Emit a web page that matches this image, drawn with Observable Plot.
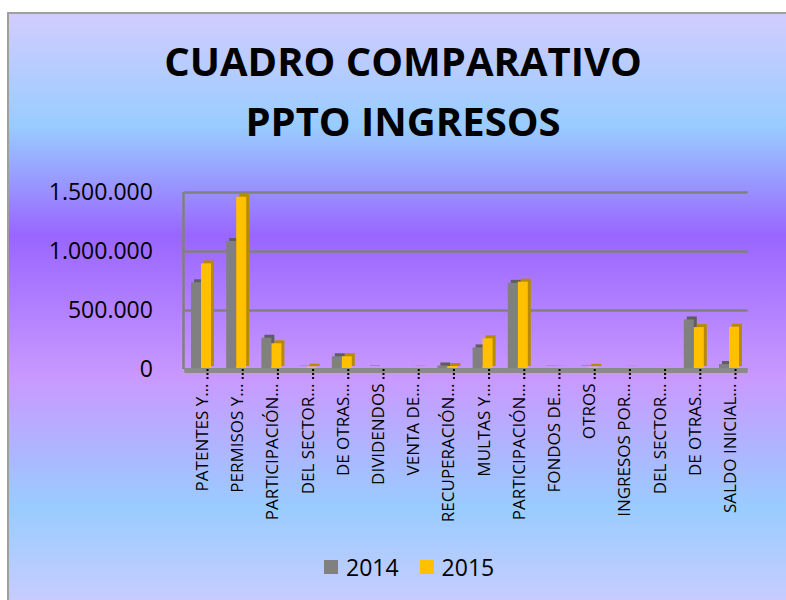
<!DOCTYPE html>
<html><head><meta charset="utf-8">
<script src="https://cdn.jsdelivr.net/npm/d3@7"></script>
<script src="https://cdn.jsdelivr.net/npm/@observablehq/plot@0.6"></script>
<style>
body{margin:0;background:#fff;width:786px;height:600px;overflow:hidden;position:relative;font-family:"Open Sans",sans-serif;}
#frame{position:absolute;left:7px;top:12px;width:800px;height:600px;border-left:2px solid #a0a0a0;border-top:2px solid #a0a0a0;
background:linear-gradient(to bottom,#d2ccff 0px,#99ccff 112px,#9966ff 222px,#c999ff 364px,#99ccff 494px,#c8ccff 588px);}
#chart{position:absolute;left:0;top:0;}
.title{position:absolute;left:7px;width:792px;text-align:center;font-family:"Open Sans",sans-serif;font-weight:700;font-size:40px;line-height:60px;color:#000;white-space:nowrap;}
#legend{position:absolute;left:324px;top:552px;height:30px;display:flex;align-items:center;font-size:23px;line-height:1;color:#000;}
#legend .sw{width:14px;height:14px;display:inline-block;margin-right:8px;}
#legend .item{display:flex;align-items:center;margin-right:21px;}
</style></head><body>
<div id="frame"></div>
<div class="title" style="top:31px">CUADRO COMPARATIVO</div>
<div class="title" style="top:91px">PPTO INGRESOS</div>
<div id="chart"></div>
<div id="legend"></div>
<script>
const labels = ["PATENTES Y…","PERMISOS Y…","PARTICIPACIÓN…","DEL SECTOR…","DE OTRAS…","DIVIDENDOS","VENTA DE…","RECUPERACIÓN…","MULTAS Y…","PARTICIPACIÓN…","FONDOS DE…","OTROS","INGRESOS POR…","DEL SECTOR…","DE OTRAS…","SALDO INICIAL…"];
const years = ["2014","2015"];
const v2014 = [735000,1085000,265000,2000,108000,3000,0,30000,183000,730000,2000,3000,0,0,420000,42000];
const v2015 = [895000,1460000,218000,20000,108000,0,3000,25000,260000,740000,2000,18000,2000,1000,355000,358000];
const yTicks = [0,500000,1000000,1500000];
const colors = ["#808080","#ffc000"];
const depthColors = ["#5e5e5e","#b88a00"];

const rows = labels.map((l,i)=>({i, v2014:v2014[i], v2015:v2015[i]}));
const fmt = d3.formatLocale({decimal:",",thousands:".",grouping:[3],currency:["",""]}).format(",");
const font = "Open Sans";

const plot = Plot.plot({
  width:786, height:600,
  marginLeft:184.4, marginRight:38.4, marginTop:192, marginBottom:231,
  style:{background:"transparent", color:"#000", fontFamily:font},
  x:{type:"band", domain:d3.range(labels.length), padding:0, round:false, label:null},
  y:{domain:[0,1500000], label:null},
  marks:[
    Plot.gridY(yTicks, {stroke:"#808080", strokeOpacity:1, strokeWidth:2.5}),
    Plot.ruleX([0], {x:d=>d, y1:0, y2:1500000, dx:-19, stroke:"#808080", strokeWidth:2.5}),
    Plot.barY(rows, {x:"i", y:"v2014", fill:depthColors[0], insetLeft:6.6, insetRight:18.6, dx:3, dy:-3}),
    Plot.barY(rows, {x:"i", y:"v2014", fill:colors[0], insetLeft:6.6, insetRight:18.6}),
    Plot.barY(rows, {x:"i", y:"v2015", fill:depthColors[1], insetLeft:16.6, insetRight:8.6, dx:3, dy:-3}),
    Plot.barY(rows, {x:"i", y:"v2015", fill:colors[1], insetLeft:16.6, insetRight:8.6}),
    Plot.ruleY([0], {stroke:"#8a8a8a", strokeWidth:5, dy:1}),
    Plot.axisY({ticks:yTicks, tickFormat:fmt, tickSize:0, tickPadding:32, fontSize:23, fontFamily:font, fill:"#000"}),
    Plot.axisX({tickSize:12, tickFormat:()=>"", dx:5, stroke:"#000", strokeWidth:2, strokeDasharray:"2 2", label:null}),
    Plot.axisX({tickSize:0, tickRotate:-90, tickPadding:14, fontSize:17, fontFamily:font, fill:"#000", tickFormat:i=>labels[i], label:null})
  ]
});
document.getElementById("chart").appendChild(plot);

const lg = document.getElementById("legend");
years.forEach((y,k)=>{
  const it = document.createElement("span"); it.className="item";
  const sw = document.createElement("span"); sw.className="sw"; sw.style.background=colors[k];
  it.appendChild(sw); it.appendChild(document.createTextNode(y)); lg.appendChild(it);
});
</script>
</body></html>
